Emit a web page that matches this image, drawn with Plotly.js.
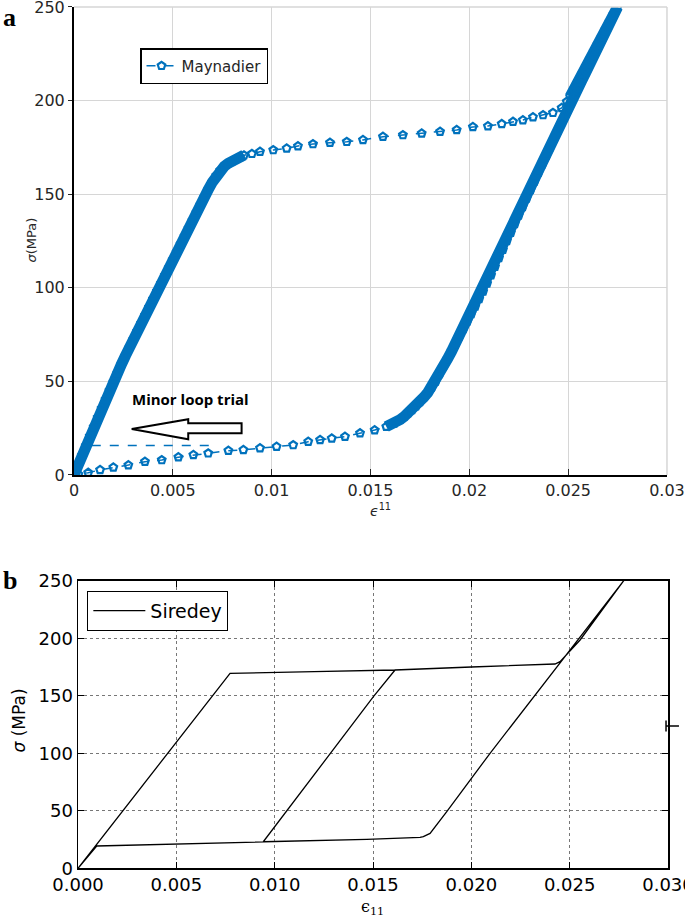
<!DOCTYPE html>
<html>
<head>
<meta charset="utf-8">
<script src="https://cdn.plot.ly/plotly-3.0.1.min.js"></script>
<style>
  body { margin: 0; background: #fff; }
  #chart { width: 685px; height: 918px; }
</style>
</head>
<body>
<div id="chart"></div>
<script>
// ---- panel a : Maynadier model (strain, stress in MPa) ----
// elastic loading + knee
var loadX = [0, 0.0002, 0.0004, 0.0006, 0.0008, 0.0010, 0.0012, 0.0014, 0.0016, 0.0018,
  0.0020, 0.0022, 0.0024, 0.0026, 0.0028, 0.0030, 0.0032, 0.0034, 0.0036, 0.0038,
  0.0040, 0.0042, 0.0044, 0.0046, 0.0048, 0.0050, 0.0052, 0.0054, 0.0056, 0.0058,
  0.0060, 0.0062, 0.0064, 0.0066, 0.0068, 0.0070, 0.0072, 0.0074, 0.0076, 0.0078,
  0.0080, 0.0082, 0.0084, 0.0086];
var loadY = [0, 5.2, 10.4, 15.6, 20.7, 25.7, 30.7, 35.6, 40.4, 45.2,
  49.9, 54.5, 59.1, 63.6, 68, 72.4, 76.8, 81.1, 85.4, 89.7,
  94, 98.2, 102.4, 106.6, 110.8, 115, 119.2, 123.4, 127.6, 131.8,
  136, 140.2, 144.4, 148.6, 152.6, 156.4, 160, 162.8, 164.8, 166.4,
  167.7, 168.8, 169.8, 170.8];

// upper plateau
var plateauX = [0.0090, 0.00941, 0.01008, 0.01076, 0.01133, 0.01209, 0.01295, 0.01380, 0.01462, 0.01563,
  0.01664, 0.01759, 0.01852, 0.01936, 0.02018, 0.02094, 0.02164, 0.02221, 0.02271, 0.02322,
  0.02373, 0.02423, 0.02467, 0.02493];
var plateauY = [171.6, 172.7, 173.6, 174.5, 175.7, 176.8, 177.5, 178.0, 179.0, 180.7,
  181.6, 182.5, 183.4, 184.3, 185.9, 186.4, 187.5, 188.7, 189.6, 191.2,
  192.3, 193.5, 196.1, 199.4];

// martensite elastic loading up to 250 MPa
var hardenX = [0.0251, 0.0253, 0.0255, 0.0257, 0.0259, 0.0261, 0.0263, 0.0265, 0.0267, 0.0269, 0.0271, 0.0273];
var hardenY = [202.2, 206.2, 210.2, 214.2, 218.2, 222.2, 226.2, 230.2, 234.2, 238.2, 242.2, 246.2];

// elastic unloading + knee
var unloadX = [0.0275, 0.0273, 0.0271, 0.0269, 0.0267, 0.0265, 0.0263, 0.0261, 0.0259, 0.0257,
  0.0255, 0.0253, 0.0251, 0.0249, 0.0247, 0.0245, 0.0243, 0.0241, 0.0239, 0.0237,
  0.0235, 0.0233, 0.0231, 0.0229, 0.0227, 0.0225, 0.0223, 0.0221, 0.0219, 0.0217,
  0.0215, 0.0213, 0.0211, 0.0209, 0.0207, 0.0205, 0.0203, 0.0201, 0.0199, 0.0197,
  0.0195, 0.0193, 0.0191, 0.0189, 0.0187, 0.0185, 0.0183, 0.0181, 0.0179, 0.0177,
  0.0175, 0.0173, 0.0171, 0.0169, 0.0167, 0.0165, 0.0162, 0.0158];
var unloadY = [250, 245.7, 241.3, 237, 232.6, 228.3, 223.9, 219.6, 215.2, 210.9,
  206.5, 202.2, 197.8, 193.3, 188.7, 184.2, 179.7, 175.1, 170.6, 166,
  161.5, 156.8, 152.3, 147.7, 143.2, 138.6, 134.1, 129.5, 125, 120.4,
  115.9, 111.3, 106.8, 102.3, 98, 94, 90, 86, 82, 78,
  74, 70, 66, 62, 58, 54, 50, 46.8, 44, 41.5,
  39, 36.8, 34.8, 33, 31.2, 29.6, 27.6, 25.8];

// lower plateau back to origin
var lowerX = [0.01521, 0.01447, 0.01371, 0.01304, 0.01245, 0.01185, 0.01109, 0.01025, 0.00941, 0.00857,
  0.00781, 0.00679, 0.00604, 0.00528, 0.00444, 0.00359, 0.00275, 0.00199, 0.00132, 0.00072, 0.00022];
var lowerY = [24.0, 22.3, 20.5, 19.6, 18.7, 17.8, 16.0, 15.1, 14.3, 13.4,
  13.0, 11.6, 10.7, 9.5, 8.0, 7.1, 5.3, 4.1, 2.7, 1.2, 0.3];

// minor loop trial (dashed level)
var minorX = [0.0009, 0.0072];
var minorY = [15.7, 15.7];

// ---- panel b : Siredey ----
var sirX = [0, 0.00773, 0.0120, 0.01612, 0.0200, 0.02425, 0.02451, 0.02553, 0.02775,
  0.02095, 0.01875, 0.0179, 0.01756, 0.01739, 0.01468, 0.00942,
  0.01502, 0.01612, 0.0200, 0.02425, 0.02451, 0.02553, 0.02775,
  0.02095, 0.01875, 0.0179, 0.01756, 0.01739, 0.01468, 0.00942, 0.0050, 0.00095, 0];
var sirY = [0, 169.5, 171, 172.4, 175, 177.6, 179.6, 198.5, 250,
  100, 49.2, 30.4, 27.5, 26.9, 25.2, 23.1,
  149.2, 172.4, 175, 177.6, 179.6, 198.5, 250,
  100, 49.2, 30.4, 27.5, 26.9, 25.2, 23.1, 21, 19.4, 0];

var topTickVals = [0, 0.005, 0.01, 0.015, 0.02, 0.025, 0.03];
var topTickText = ['0', '0.005', '0.01', '0.015', '0.02', '0.025', '0.03'];

var blue = '#0072BD';

// densely packed markers on the elastic branches merge into a solid band
var band = {
  x: loadX.concat([null], hardenX, unloadX),
  y: loadY.concat([null], hardenY, unloadY),
  type: 'scatter', mode: 'lines',
  line: { color: blue, width: 11 },
  connectgaps: false,
  showlegend: false, hoverinfo: 'skip',
  xaxis: 'x', yaxis: 'y'
};

var maynadier = {
  x: loadX.concat(plateauX, hardenX, unloadX, lowerX),
  y: loadY.concat(plateauY, hardenY, unloadY, lowerY),
  name: 'Maynadier',
  type: 'scatter',
  mode: 'lines+markers',
  line: { color: blue, width: 1.5, dash: 'dash' },
  marker: { symbol: 'pentagon-open', size: 8, color: blue, line: { width: 2.2, color: blue } },
  xaxis: 'x', yaxis: 'y',
  legend: 'legend'
};

var minorTrace = {
  x: minorX, y: minorY,
  type: 'scatter', mode: 'lines',
  line: { color: blue, width: 1.5, dash: 'dash' },
  showlegend: false, hoverinfo: 'skip',
  xaxis: 'x', yaxis: 'y'
};

var siredey = {
  x: sirX, y: sirY,
  name: 'Siredey',
  type: 'scatter', mode: 'lines',
  line: { color: 'black', width: 1.3 },
  xaxis: 'x2', yaxis: 'y2',
  legend: 'legend2'
};

// hollow arrow next to "Minor loop trial" (data coords of panel a)
var arrowPath = 'M 0.00292 24.6 L 0.00578 29.75 L 0.00578 27.6 L 0.00848 27.6 ' +
  'L 0.00848 22.3 L 0.00578 22.3 L 0.00578 19.07 Z';

var topFont = { family: 'DejaVu Sans', size: 16, color: '#262626' };
var botFont = { family: 'DejaVu Sans', size: 18, color: 'black' };

var layout = {
  width: 685,
  height: 918,
  margin: { l: 0, r: 0, t: 0, b: 0 },
  paper_bgcolor: 'white',
  plot_bgcolor: 'white',
  xaxis: {
    domain: [0.1080, 0.9737],
    range: [0, 0.03],
    tickvals: topTickVals,
    ticktext: topTickText,
    showgrid: true, gridcolor: '#d6d6d6', gridwidth: 1,
    zeroline: false,
    showline: true, linecolor: 'black', linewidth: 2,
    ticks: 'inside', ticklen: 6, tickcolor: '#262626',
    tickfont: topFont, ticklabeloverflow: 'allow',
    anchor: 'y'
  },
  yaxis: {
    domain: [0.4826, 0.9924],
    range: [0, 250],
    dtick: 50,
    showgrid: true, gridcolor: '#d6d6d6', gridwidth: 1,
    zeroline: false,
    showline: true, linecolor: 'black', linewidth: 2,
    ticks: 'outside', ticklen: 4, tickcolor: '#262626',
    tickfont: topFont, ticklabeloverflow: 'allow',
    anchor: 'x'
  },
  xaxis2: {
    domain: [0.1139, 0.9752],
    range: [0, 0.03],
    dtick: 0.005,
    tickformat: '.3f',
    showgrid: true, gridcolor: '#777', gridwidth: 1, griddash: 'dot',
    zeroline: false,
    showline: true, mirror: 'ticks', linecolor: 'black', linewidth: 1.5,
    ticks: 'inside', ticklen: 6, tickcolor: 'black',
    tickfont: botFont, ticklabeloverflow: 'allow',
    anchor: 'y2'
  },
  yaxis2: {
    domain: [0.0541, 0.3674],
    range: [0, 250],
    dtick: 50,
    showgrid: true, gridcolor: '#777', gridwidth: 1, griddash: 'dot',
    zeroline: false,
    showline: true, mirror: 'ticks', linecolor: 'black', linewidth: 1.5,
    ticks: 'inside', ticklen: 6, tickcolor: 'black',
    tickfont: botFont, ticklabeloverflow: 'allow',
    anchor: 'x2'
  },
  legend: {
    x: 0.2044, y: 0.9477, xanchor: 'left', yanchor: 'top',
    bgcolor: 'white', bordercolor: 'black', borderwidth: 1.5,
    font: { family: 'DejaVu Sans', size: 15, color: '#262626' }
  },
  legend2: {
    x: 0.1275, y: 0.3565, xanchor: 'left', yanchor: 'top',
    bgcolor: 'white', bordercolor: 'black', borderwidth: 1,
    itemwidth: 52,
    font: { family: 'DejaVu Sans', size: 19, color: 'black' }
  },
  shapes: [
    // grey frame on top / right of panel a
    { type: 'line', xref: 'x domain', yref: 'y domain', x0: 0, x1: 1, y0: 1, y1: 1,
      line: { color: '#d6d6d6', width: 1.5 } },
    { type: 'line', xref: 'x domain', yref: 'y domain', x0: 1, x1: 1, y0: 0, y1: 1,
      line: { color: '#d6d6d6', width: 1.5 } },
    { type: 'path', xref: 'x', yref: 'y', path: arrowPath,
      fillcolor: 'white', line: { color: 'black', width: 2 } },
    { type: 'line', xref: 'paper', yref: 'y2', x0: 0.9723, x1: 0.9723, y0: 119, y1: 128.5,
      line: { color: 'black', width: 1.5 } },
    { type: 'line', xref: 'paper', yref: 'y2', x0: 0.9723, x1: 0.9912, y0: 123.7, y1: 123.7,
      line: { color: 'black', width: 1.5 } }
  ],
  annotations: [
    { text: '<b>a</b>', xref: 'paper', yref: 'paper', x: 0.002, y: 0.999,
      xanchor: 'left', yanchor: 'top', showarrow: false,
      font: { family: 'Liberation Serif', size: 26, color: 'black' } },
    { text: '<b>b</b>', xref: 'paper', yref: 'paper', x: 0.002, y: 0.386,
      xanchor: 'left', yanchor: 'top', showarrow: false,
      font: { family: 'Liberation Serif', size: 26, color: 'black' } },
    { text: '<b>Minor loop trial</b>', xref: 'x', yref: 'y', x: 0.00283, y: 40.5,
      xanchor: 'left', yanchor: 'middle', showarrow: false,
      font: { family: 'Open Sans', size: 15, color: 'black' } },
    { text: '<i>σ</i>(MPa)', xref: 'paper', yref: 'paper', x: 0.046, y: 0.7386,
      xanchor: 'center', yanchor: 'middle', textangle: -90, showarrow: false,
      font: { family: 'DejaVu Sans', size: 13, color: '#262626' } },
    { text: '<i>ϵ</i><sup>11</sup>', xref: 'paper', yref: 'paper', x: 0.555, y: 0.4445,
      xanchor: 'center', yanchor: 'middle', showarrow: false,
      font: { family: 'DejaVu Sans', size: 14, color: '#262626' } },
    { text: '<i>σ</i> (MPa)', xref: 'paper', yref: 'paper', x: 0.027, y: 0.2157,
      xanchor: 'center', yanchor: 'middle', textangle: -90, showarrow: false,
      font: { family: 'DejaVu Sans', size: 17, color: 'black' } },
    { text: 'ϵ<sub>11</sub>', xref: 'paper', yref: 'paper', x: 0.5445, y: 0.0109,
      xanchor: 'center', yanchor: 'middle', showarrow: false,
      font: { family: 'DejaVu Serif', size: 16, color: 'black' } }
  ]
};

Plotly.newPlot('chart', [band, maynadier, minorTrace, siredey], layout, { staticPlot: true });
</script>
</body>
</html>
